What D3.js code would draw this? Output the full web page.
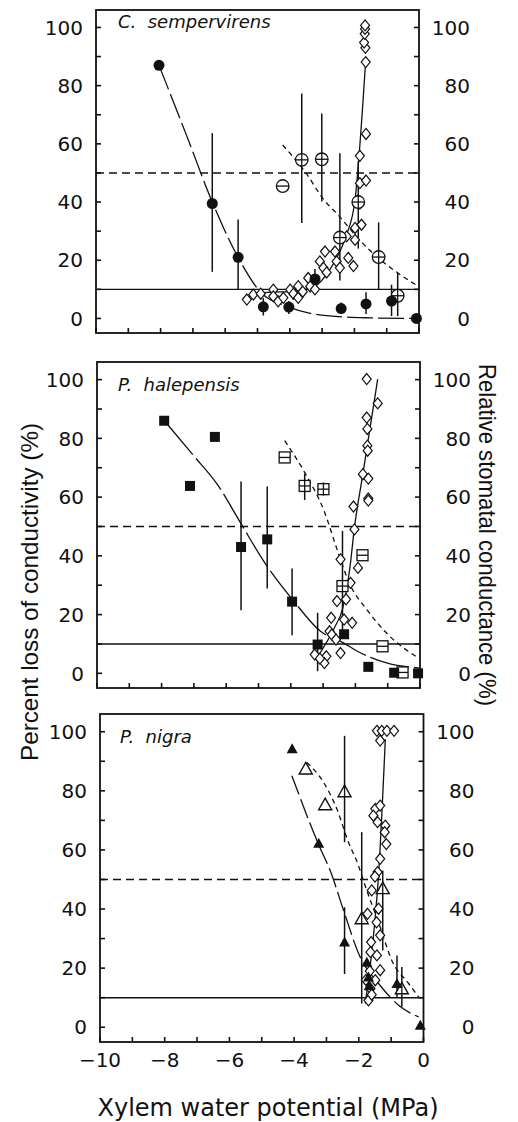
<!DOCTYPE html>
<html><head><meta charset="utf-8">
<script src="https://cdn.jsdelivr.net/npm/d3@7"></script>
<style>body{margin:0;background:#fff}svg{display:block}</style>
</head><body>
<svg id="c" width="518" height="1122"></svg>
<script>
// ---------------- DATA ----------------
const xTickValues = [-10, -8, -6, -4, -2, 0];
const yTickValues = [0, 20, 40, 60, 80, 100];
const speciesNames = ["C.  sempervirens", "P.  halepensis", "P.  nigra"];
const xTitle = "Xylem water potential (MPa)";
const yLeftTitle = "Percent loss of conductivity (%)";
const yRightTitle = "Relative stomatal conductance (%)";
const refSolid = 10, refDashed = 50;

// C. sempervirens  [psi, value, lower, upper]
const csFilled = [
  [-8.05, 87], [-6.4, 39.5, 16, 63.7], [-5.6, 21, 10, 34], [-4.82, 4, 1, 7],
  [-4.03, 3.9, 1.5, 6], [-3.22, 13.6, 10.5, 17], [-2.41, 3.4, 1.5, 5.5],
  [-1.64, 5, 1.5, 9], [-0.85, 6, 0.8, 11.6], [-0.08, 0]
];
const csFilledFit = [
  [-8.05, 87], [-7.2, 63], [-6.4, 40], [-5.6, 21], [-4.9, 9], [-4.05, 4],
  [-3.3, 1.6], [-2.45, 0.6], [-1.5, 0.2], [-0.1, 0]
];
const csOpenBar = [
  [-3.63, 54.5, 32.8, 77.3], [-3.01, 54.7, 40.2, 70.4], [-2.45, 27.8, 13, 56.8],
  [-1.88, 40, 24, 54], [-1.25, 21.1, 10, 33], [-0.66, 7.8, 0.8, 15.6]
];
const csOpenNoBar = [[-4.22, 45.5]];
const csOpenFit = [
  [-4.22, 59.6], [-3.5, 50], [-2.96, 41], [-2.5, 35.5], [-1.8, 26.5],
  [-1.2, 20.2], [-0.6, 15.2], [-0.02, 11]
];
const csDiamond = [
  [-5.33, 6.5], [-5.13, 8.2], [-4.9, 8.5], [-4.51, 9.9], [-4.51, 7.6], [-4.36, 5.9],
  [-4.2, 7.1], [-3.99, 9.9], [-3.89, 8.5], [-3.74, 11.1], [-3.74, 7.1], [-3.6, 9.2],
  [-3.43, 13.9], [-3.37, 11], [-3.22, 10], [-3.07, 19.6], [-2.96, 17.4], [-2.91, 23],
  [-2.86, 15.8], [-2.6, 23], [-2.55, 19.6], [-2.45, 17.4], [-2.19, 20.8], [-2.03, 18],
  [-2.24, 28.2], [-1.98, 31.1], [-1.98, 27], [-1.88, 40.7], [-1.83, 39.5], [-1.78, 32.2],
  [-1.83, 46.5], [-1.64, 47.4], [-1.83, 55.9], [-1.64, 63.4], [-1.65, 88.1], [-1.66, 93],
  [-1.7, 94.8], [-1.68, 97.8], [-1.67, 99.5], [-1.67, 100.7]
];
const csDiamondFit = [
  [-5.3, 7.5], [-4.8, 8.8], [-3.8, 9.4], [-3.22, 11.1], [-2.76, 16.8], [-2.45, 23],
  [-2.24, 28.8], [-1.98, 40.8], [-1.66, 87]
];

// P. halepensis
const phFilled = [
  [-7.92, 86], [-7.12, 63.8], [-6.35, 80.5], [-5.54, 43, 21.5, 65.3],
  [-4.73, 45.6, 28.9, 63.6], [-3.96, 24.4, 13, 35.7], [-3.17, 9.8, 0.7, 20.6],
  [-2.35, 13.3], [-1.6, 2.2], [-0.8, 0.2], [-0.06, 0]
];
const phFilledFit = [
  [-7.83, 84.9], [-7.0, 74], [-6.28, 64.4], [-5.56, 51.3], [-4.84, 38.2], [-3.91, 24.6],
  [-3.08, 14.3], [-2.36, 10.3], [-1.94, 7.5], [-1.01, 3.5], [0, 1.8]
];
const phOpenBar = [[-3.57, 63.8, 59, 68], [-2.99, 62.7, 60.5, 65], [-2.4, 29.7, 14.3, 48.5]];
const phOpenNoBar = [[-4.19, 73.5], [-1.78, 40.2], [-1.16, 9.2], [-0.54, 0.3]];
const phOpenFit = [
  [-4.19, 79.2], [-3.54, 67.8], [-2.97, 55.3], [-2.55, 41.6], [-2.2, 31],
  [-1.61, 21.2], [-0.99, 13.2], [-0.05, 5.2]
];
const phDiamond = [
  [-1.65, 100.2], [-1.31, 91.9], [-1.65, 87.1], [-1.63, 83.2], [-1.63, 77.5], [-1.62, 75.8],
  [-1.77, 67.8], [-1.6, 66.3], [-1.6, 59.5], [-1.6, 58.8], [-2.06, 56.8], [-2.03, 49],
  [-2.46, 38.8], [-1.92, 35.9], [-2.15, 30.8], [-2.57, 24.6], [-2.29, 25.2], [-2.75, 18.9],
  [-2.35, 18.3], [-2.1, 17.2], [-2.8, 14.3], [-3.26, 6.4], [-2.9, 5.8], [-2.96, 3.5],
  [-2.46, 6.9], [-3.1, 5], [-2.73, 13.2], [-2.6, 11.5]
];
const phDiamondFit = [
  [-3.2, 5], [-3.06, 7.5], [-2.65, 15.5], [-2.39, 22.3], [-2.17, 36], [-2.03, 49.6],
  [-1.77, 67.8], [-1.31, 100.2]
];

// P. nigra
const pnFilled = [
  [-4.06, 94.2], [-3.24, 62.3], [-2.44, 28.8, 18, 40.6], [-1.75, 22], [-1.7, 17],
  [-1.68, 14], [-0.82, 14.8, 10.2, 24.3], [-0.1, 0.7]
];
const pnFilledFit = [
  [-4.07, 85.1], [-3.25, 62], [-2.85, 52], [-2.47, 39.5], [-1.96, 23.8], [-1.39, 14.8],
  [-0.72, 7], [-0.15, 3.5]
];
const pnOpen = [
  [-3.64, 87.4], [-3.04, 75.3], [-2.44, 79.7, 62.6, 98.6], [-1.91, 36.7, 8, 66],
  [-1.26, 46.9, 26, 53], [-0.67, 13, 6.9, 20.4]
];
const pnOpenFit = [
  [-3.61, 89.6], [-3.09, 82.9], [-2.68, 73.9], [-2.32, 62.6], [-2.01, 54.7], [-1.86, 49.7],
  [-1.34, 33.9], [-0.98, 22.6], [-0.46, 14.8], [-0.15, 10.2]
];
const pnDiamond = [
  [-1.44, 100.3], [-1.29, 100.3], [-1.13, 100.3], [-0.91, 100.3], [-1.34, 97], [-1.49, 73.9],
  [-1.34, 75], [-1.55, 71.6], [-1.42, 69.4], [-1.18, 68.2], [-1.2, 66], [-1.15, 62],
  [-1.34, 57], [-1.42, 52.5], [-1.5, 51], [-1.6, 46.3], [-1.39, 40.1], [-1.73, 38.4],
  [-1.45, 35.5], [-1.34, 31.1], [-1.62, 28.8], [-1.64, 25.4], [-1.44, 24.3], [-1.34, 19.3],
  [-1.66, 19], [-1.78, 16], [-1.49, 15.9], [-1.64, 13.1], [-1.7, 9.1], [-1.6, 11]
];
const pnDiamondFit = [[-1.8, 8], [-1.55, 30.5], [-1.39, 51.4], [-1.18, 97.5]];

// ---------------- LAYOUT ----------------
const panels = [
  { name: speciesNames[0], x0: 96, x1: 419, top: 10, bottom: 333, titleY: 28, titleX: 118,
    filled: csFilled, filledFit: csFilledFit, filledShape: "circle", filledDash: "26,5",
    openBar: csOpenBar, openNoBar: csOpenNoBar, openFit: csOpenFit, openShape: "circleX",
    diamond: csDiamond, diamondFit: csDiamondFit },
  { name: speciesNames[1], x0: 97, x1: 420, top: 362, bottom: 688, titleY: 391, titleX: 118,
    filled: phFilled, filledFit: phFilledFit, filledShape: "square", filledDash: "40,5",
    openBar: phOpenBar, openNoBar: phOpenNoBar, openFit: phOpenFit, openShape: "squareX",
    diamond: phDiamond, diamondFit: phDiamondFit },
  { name: speciesNames[2], x0: 100, x1: 423.5, top: 714, bottom: 1042, titleY: 743, titleX: 120,
    filled: pnFilled, filledFit: pnFilledFit, filledShape: "tri", filledDash: "20,5",
    openBar: pnOpen.filter(d => d.length > 2), openNoBar: pnOpen.filter(d => d.length <= 2),
    openFit: pnOpenFit, openShape: "triOpen",
    diamond: pnDiamond, diamondFit: pnDiamondFit }
];

const svg = d3.select("#c");
const FONT = "'DejaVu Sans', sans-serif";

panels.forEach((p, i) => {
  const x = d3.scaleLinear().domain([-10, 0]).range([p.x0, p.x1]);
  const y = d3.scaleLinear().domain([-5, 106]).range([p.bottom, p.top]);
  const g = svg.append("g");
  const line = d3.line().x(d => x(d[0])).y(d => y(d[1])).curve(d3.curveMonotoneX);

  // reference lines
  g.append("line").attr("x1", p.x0).attr("x2", p.x1).attr("y1", y(refSolid)).attr("y2", y(refSolid))
    .attr("stroke", "#111").attr("stroke-width", 1.4);
  g.append("line").attr("x1", p.x0).attr("x2", p.x1).attr("y1", y(refDashed)).attr("y2", y(refDashed))
    .attr("stroke", "#111").attr("stroke-width", 1.4).attr("stroke-dasharray", "8,5");

  // fits
  g.append("path").attr("d", line(p.filledFit)).attr("fill", "none").attr("stroke", "#111")
    .attr("stroke-width", 1.3).attr("stroke-dasharray", p.filledDash);
  g.append("path").attr("d", line(p.openFit)).attr("fill", "none").attr("stroke", "#111")
    .attr("stroke-width", 1.3).attr("stroke-dasharray", "5,4");
  g.append("path").attr("d", line(p.diamondFit)).attr("fill", "none").attr("stroke", "#111")
    .attr("stroke-width", 1.3);

  // error bars
  const bars = p.filled.concat(p.openBar).filter(d => d.length > 2);
  g.selectAll("line.eb").data(bars).enter().append("line").attr("class", "eb")
    .attr("x1", d => x(d[0])).attr("x2", d => x(d[0]))
    .attr("y1", d => y(d[2])).attr("y2", d => y(d[3]))
    .attr("stroke", "#111").attr("stroke-width", 1.5);

  // diamonds
  g.selectAll("path.dm").data(p.diamond).enter().append("path").attr("class", "dm")
    .attr("d", d => { const cx = x(d[0]), cy = y(d[1]);
      return `M${cx},${cy-5.5}L${cx+4.5},${cy}L${cx},${cy+5.5}L${cx-4.5},${cy}Z`; })
    .attr("fill", "#fff").attr("stroke", "#111").attr("stroke-width", 1.2);

  // open symbols
  function openSym(d, withBar) {
    const cx = x(d[0]), cy = y(d[1]);
    const s = g.append("g");
    if (p.openShape === "circleX") {
      s.append("circle").attr("cx", cx).attr("cy", cy).attr("r", 6.3)
        .attr("fill", "#fff").attr("stroke", "#111").attr("stroke-width", 1.3);
      s.append("line").attr("x1", cx - 6.3).attr("x2", cx + 6.3).attr("y1", cy).attr("y2", cy)
        .attr("stroke", "#111").attr("stroke-width", 1.3);
      if (withBar) s.append("line").attr("x1", cx).attr("x2", cx).attr("y1", cy - 6.3).attr("y2", cy + 6.3)
        .attr("stroke", "#111").attr("stroke-width", 1.3);
    } else if (p.openShape === "squareX") {
      s.append("rect").attr("x", cx - 5.5).attr("y", cy - 5.5).attr("width", 11).attr("height", 11)
        .attr("fill", "#fff").attr("stroke", "#111").attr("stroke-width", 1.3);
      s.append("line").attr("x1", cx - 5.5).attr("x2", cx + 5.5).attr("y1", cy).attr("y2", cy)
        .attr("stroke", "#111").attr("stroke-width", 1.3);
      if (withBar) s.append("line").attr("x1", cx).attr("x2", cx).attr("y1", cy - 5.5).attr("y2", cy + 5.5)
        .attr("stroke", "#111").attr("stroke-width", 1.3);
    } else {
      s.append("path").attr("d", `M${cx},${cy-6.5}L${cx+6.5},${cy+5}L${cx-6.5},${cy+5}Z`)
        .attr("fill", "#fff").attr("stroke", "#111").attr("stroke-width", 1.4);
      if (withBar) s.append("line").attr("x1", cx).attr("x2", cx).attr("y1", cy - 6.5).attr("y2", cy + 5)
        .attr("stroke", "#111").attr("stroke-width", 1.3);
    }
  }
  p.openNoBar.forEach(d => openSym(d, false));
  p.openBar.forEach(d => openSym(d, true));

  // filled symbols
  p.filled.forEach(d => {
    const cx = x(d[0]), cy = y(d[1]);
    if (p.filledShape === "circle") {
      g.append("circle").attr("cx", cx).attr("cy", cy).attr("r", 5.5).attr("fill", "#111");
    } else if (p.filledShape === "square") {
      g.append("rect").attr("x", cx - 5).attr("y", cy - 5).attr("width", 10).attr("height", 10).attr("fill", "#111");
    } else {
      g.append("path").attr("d", `M${cx},${cy-5.5}L${cx+5.5},${cy+4.5}L${cx-5.5},${cy+4.5}Z`).attr("fill", "#111");
    }
  });

  // frame
  g.append("rect").attr("x", p.x0).attr("y", p.top).attr("width", p.x1 - p.x0).attr("height", p.bottom - p.top)
    .attr("fill", "none").attr("stroke", "#111").attr("stroke-width", 1.8);

  // ticks
  const yMinor = d3.range(0, 101, 10);
  g.selectAll("line.yl").data(yMinor).enter().append("line")
    .attr("x1", p.x0).attr("x2", p.x0 + 5).attr("y1", d => y(d)).attr("y2", d => y(d))
    .attr("stroke", "#111").attr("stroke-width", 1.6);
  g.selectAll("line.yr").data(yMinor).enter().append("line")
    .attr("x1", p.x1).attr("x2", p.x1 - 5).attr("y1", d => y(d)).attr("y2", d => y(d))
    .attr("stroke", "#111").attr("stroke-width", 1.6);
  const xMinor = d3.range(-10, 0.5, 1);
  g.selectAll("line.xt").data(xMinor).enter().append("line")
    .attr("x1", d => x(d)).attr("x2", d => x(d)).attr("y1", p.bottom).attr("y2", p.bottom - 5)
    .attr("stroke", "#111").attr("stroke-width", 1.6);

  // tick labels
  g.selectAll("text.yl").data(yTickValues).enter().append("text")
    .attr("x", p.x0 - 13).attr("y", d => y(d)).attr("dy", "0.36em")
    .attr("text-anchor", "end").attr("font-family", FONT).attr("font-size", 20).attr("fill", "#111")
    .text(d => d);
  g.selectAll("text.yr").data(yTickValues).enter().append("text")
    .attr("x", p.x1 + 51).attr("y", d => y(d)).attr("dy", "0.36em")
    .attr("text-anchor", "end").attr("font-family", FONT).attr("font-size", 20).attr("fill", "#111")
    .text(d => d);
  if (i === 2) {
    g.selectAll("text.xl").data(xTickValues).enter().append("text")
      .attr("x", d => x(d)).attr("y", 1067).attr("text-anchor", "middle")
      .attr("font-family", FONT).attr("font-size", 20).attr("fill", "#111")
      .text(d => d < 0 ? "\u2212" + Math.abs(d) : String(d));
  }

  // species label
  g.append("text").attr("x", p.titleX).attr("y", p.titleY)
    .attr("font-family", FONT).attr("font-style", "italic").attr("font-size", 18)
    .attr("fill", "#111").style("white-space", "pre").text(p.name);
});

// axis titles
svg.append("text").attr("x", 268).attr("y", 1116).attr("text-anchor", "middle")
  .attr("font-family", FONT).attr("font-size", 24).attr("fill", "#111").text(xTitle);
svg.append("text").attr("transform", "translate(30,592) rotate(-90)")
  .attr("text-anchor", "middle").attr("dy", "0.35em")
  .attr("font-family", "'Liberation Sans', Arial, sans-serif").attr("font-size", 24).attr("fill", "#111")
  .attr("textLength", 338).attr("lengthAdjust", "spacingAndGlyphs").text(yLeftTitle);
svg.append("text").attr("transform", "translate(487,535) rotate(90)")
  .attr("text-anchor", "middle").attr("dy", "0.35em")
  .attr("font-family", "'Liberation Sans', Arial, sans-serif").attr("font-size", 24).attr("fill", "#111")
  .attr("textLength", 342).attr("lengthAdjust", "spacingAndGlyphs").text(yRightTitle);
</script>
</body></html>
